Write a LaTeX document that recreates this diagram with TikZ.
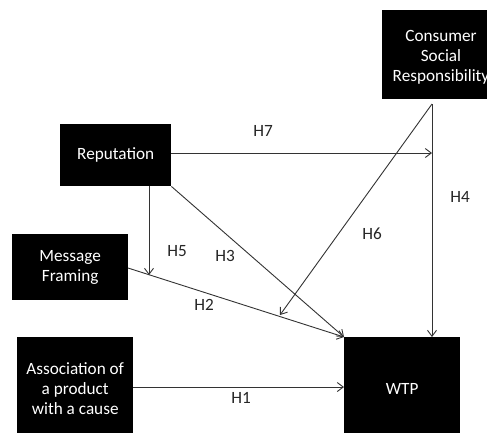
\documentclass[tikz,border=0pt]{standalone}
\usepackage{fontspec}
\setmainfont{Carlito}
\usetikzlibrary{arrows.meta}
\begin{document}
\begin{tikzpicture}[x=1pt,y=-1pt,
  box/.style={draw=none,fill=black,text=white,align=center,inner sep=0pt,
    font=\fontsize{17.2}{20}\selectfont},
  link/.style={draw=black!80,line width=0.9pt},
  arr/.style={link,-{Straight Barb[length=6pt,width=9pt]}},
  hlab/.style={font=\fontsize{17.2}{20}\selectfont,text=black!85}]
\clip (0,0) rectangle (487,432);
\fill[white] (0,0) rectangle (487,432);
% boxes
\node[box,minimum width=116pt,minimum height=89pt,anchor=north west] (csr) at (382,10) {};
\node[text=white,align=center,font=\fontsize{17.2}{20}\selectfont] at (441,57) {Consumer\\Social\\Responsibility};
\node[box,minimum width=111pt,minimum height=62pt,anchor=north west] (rep) at (60,124) {Reputation};
\node[box,minimum width=116pt,minimum height=66pt,anchor=north west] (mf) at (12,234) {Message\\Framing};
\node[box,minimum width=116pt,minimum height=102pt,anchor=north west] (assoc) at (17,337) {Association of\\a product\\with a cause};
\node[box,minimum width=116pt,minimum height=104pt,anchor=north west] (wtp) at (344,337) {WTP};
% coordinates
\coordinate (csrb) at (432,104);
\coordinate (h7end) at (432,153);
\coordinate (h5start) at (149,186);
\coordinate (h5end) at (149,275);
\coordinate (h6end) at (280,315);
\coordinate (mfout) at (128,268);
% connectors
\draw[arr] (rep.east |- h7end) -- (h7end);
\draw[arr] (csrb) -- (csrb |- wtp.north);
\draw[arr] (csrb) -- (h6end);
\draw[arr] (h5start) -- (h5end);
\draw[arr] (rep.south east) -- (wtp.north west);
\draw[arr] (mfout) -- (wtp.north west);
\draw[arr] (assoc.east |- 0,387) -- (wtp.west |- 0,387);
% labels
\node[hlab] (l7) at (263,131) {H7};
\node[hlab] (l4) at (460,197) {H4};
\node[hlab] (l6) at (372,234) {H6};
\node[hlab] (l5) at (177,251) {H5};
\node[hlab] (l3) at (225,256) {H3};
\node[hlab] (l2) at (204,305) {H2};
\node[hlab] (l1) at (241,398) {H1};
\end{tikzpicture}
\end{document}
